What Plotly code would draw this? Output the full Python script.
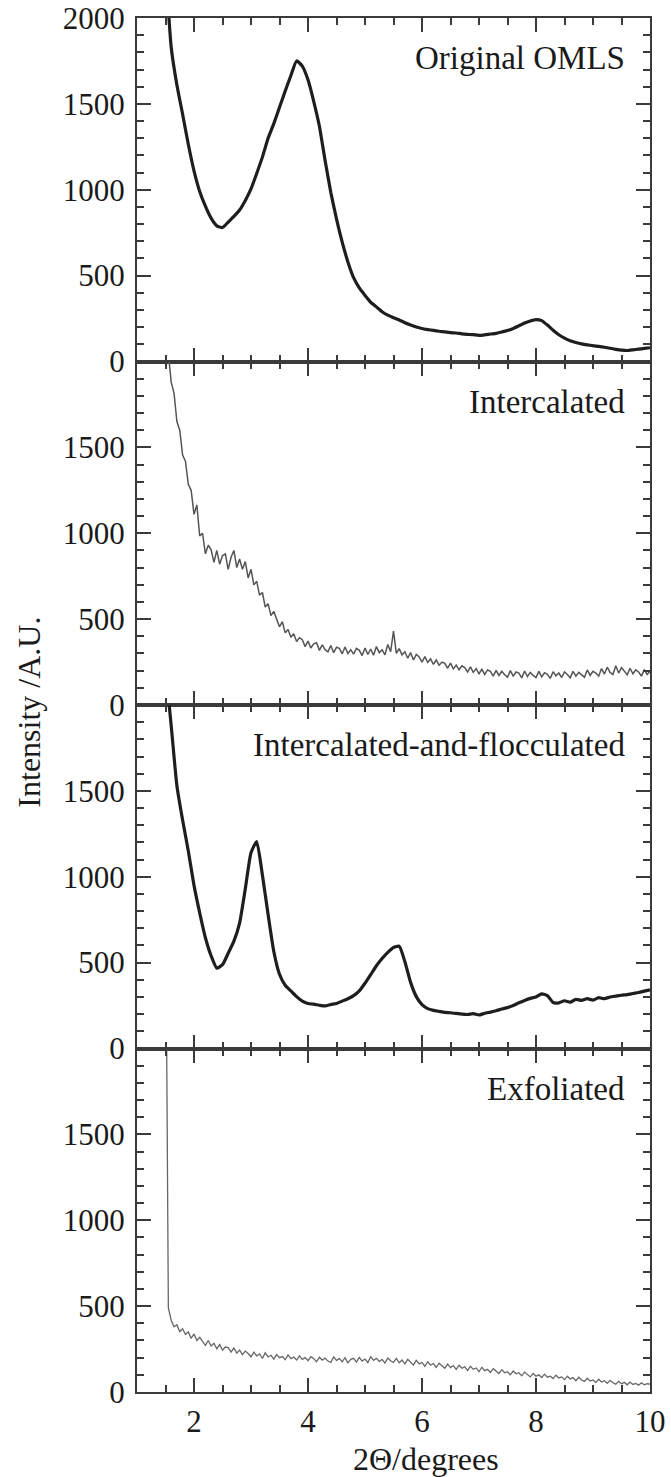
import plotly.graph_objects as go
from plotly.subplots import make_subplots

# ---------------- data ----------------
TWO_THETA_COARSE = [1.55, 1.6, 1.7, 1.8, 1.9, 2.0, 2.1, 2.2, 2.3, 2.4, 2.5, 2.6, 2.7, 2.8, 2.9,
                    3.0, 3.1, 3.2, 3.3, 3.4, 3.5, 3.6, 3.7, 3.8, 3.9, 4.0, 4.1, 4.2, 4.3, 4.4,
                    4.5, 4.6, 4.7, 4.8, 4.9, 5.0, 5.1, 5.2, 5.3, 5.4, 5.5, 5.6, 5.7, 5.8, 5.9,
                    6.0, 6.1, 6.2, 6.3, 6.4, 6.5, 6.6, 6.7, 6.8, 6.9, 7.0, 7.1, 7.2, 7.3, 7.4,
                    7.5, 7.6, 7.7, 7.8, 7.9, 8.0, 8.1, 8.2, 8.3, 8.4, 8.5, 8.6, 8.7, 8.8, 8.9,
                    9.0, 9.1, 9.2, 9.3, 9.4, 9.5, 9.6, 9.7, 9.8, 9.9, 10.0]

original_omls = [2050, 1830, 1610, 1440, 1265, 1110, 990, 905, 835, 790, 780, 812, 845, 882, 938,
                 1005, 1095, 1190, 1300, 1385, 1480, 1575, 1665, 1750, 1720, 1640, 1515, 1370, 1170, 985,
                 830, 695, 580, 488, 428, 385, 345, 318, 290, 270, 255, 242, 226, 213, 201,
                 192, 186, 181, 176, 172, 168, 166, 161, 158, 156, 152, 155, 160, 164, 172,
                 180, 192, 208, 224, 236, 244, 238, 212, 182, 156, 136, 121, 111, 103, 97,
                 92, 88, 83, 77, 71, 66, 64, 68, 72, 76, 80]

intercalated_flocculated = [2050, 1880, 1530, 1330, 1150, 950, 790, 645, 540, 468, 488, 555, 625, 730, 930,
                            1140, 1205, 1010, 780, 565, 432, 368, 335, 302, 276, 262, 258, 252, 248, 256,
                            262, 276, 290, 308, 336, 380, 430, 482, 524, 560, 588, 596, 505, 385, 302,
                            255, 232, 222, 216, 210, 208, 204, 200, 198, 203, 195, 205, 212, 220, 230,
                            238, 250, 266, 280, 292, 300, 318, 308, 268, 266, 278, 270, 286, 280, 290,
                            282, 296, 290, 300, 305, 310, 314, 320, 326, 334, 342]

TWO_THETA_FINE = [1.55, 1.6, 1.65, 1.7, 1.75, 1.8, 1.85, 1.9, 1.95, 2.0, 2.05, 2.1, 2.15, 2.2, 2.25,
                  2.3, 2.35, 2.4, 2.45, 2.5, 2.55, 2.6, 2.65, 2.7, 2.75, 2.8, 2.85, 2.9, 2.95, 3.0,
                  3.05, 3.1, 3.15, 3.2, 3.25, 3.3, 3.35, 3.4, 3.45, 3.5, 3.55, 3.6, 3.65, 3.7, 3.75,
                  3.8, 3.85, 3.9, 3.95, 4.0, 4.05, 4.1, 4.15, 4.2, 4.25, 4.3, 4.35, 4.4, 4.45, 4.5,
                  4.55, 4.6, 4.65, 4.7, 4.75, 4.8, 4.85, 4.9, 4.95, 5.0, 5.05, 5.1, 5.15, 5.2, 5.25,
                  5.3, 5.35, 5.4, 5.45, 5.5, 5.55, 5.6, 5.65, 5.7, 5.75, 5.8, 5.85, 5.9, 5.95, 6.0,
                  6.05, 6.1, 6.15, 6.2, 6.25, 6.3, 6.35, 6.4, 6.45, 6.5, 6.55, 6.6, 6.65, 6.7, 6.75,
                  6.8, 6.85, 6.9, 6.95, 7.0, 7.05, 7.1, 7.15, 7.2, 7.25, 7.3, 7.35, 7.4, 7.45, 7.5,
                  7.55, 7.6, 7.65, 7.7, 7.75, 7.8, 7.85, 7.9, 7.95, 8.0, 8.05, 8.1, 8.15, 8.2, 8.25,
                  8.3, 8.35, 8.4, 8.45, 8.5, 8.55, 8.6, 8.65, 8.7, 8.75, 8.8, 8.85, 8.9, 8.95, 9.0,
                  9.05, 9.1, 9.15, 9.2, 9.25, 9.3, 9.35, 9.4, 9.45, 9.5, 9.55, 9.6, 9.65, 9.7, 9.75,
                  9.8, 9.85, 9.9, 9.95, 10.0]

intercalated = [2050, 1880, 1815, 1650, 1600, 1455, 1420, 1285, 1250, 1110, 1165, 985, 1000, 880, 930,
                905, 830, 900, 820, 870, 880, 790, 860, 900, 800, 850, 790, 835, 740, 790,
                700, 720, 640, 655, 570, 590, 520, 545, 500, 455, 485, 420, 440, 395, 415,
                370, 392, 380, 340, 372, 332, 356, 362, 318, 350, 322, 310, 346, 305, 336,
                330, 298, 338, 300, 322, 296, 330, 318, 288, 332, 295, 326, 290, 340, 305,
                322, 292, 352, 310, 430, 300, 328, 292, 310, 272, 305, 262, 294, 280, 250,
                282, 248, 268, 236, 262, 232, 250, 242, 214, 244, 210, 232, 205, 228, 218,
                192, 222, 190, 212, 182, 208, 178, 204, 196, 168, 202, 172, 196, 176, 162,
                200, 168, 192, 186, 158, 198, 166, 190, 172, 160, 196, 164, 188, 178, 155,
                194, 170, 186, 160, 192, 178, 158, 196, 168, 190, 176, 162, 204, 172, 196,
                186, 168, 212, 180, 220, 190, 178, 228, 186, 218, 200, 176, 214, 182, 205,
                192, 168, 206, 178, 196]

TWO_THETA_EXF = [1.52] + TWO_THETA_FINE

exfoliated = [2050,
              490, 418, 380, 392, 352, 368, 335, 350, 312, 338, 300, 318, 296, 272, 300,
              268, 284, 252, 276, 244, 262, 258, 232, 256, 226, 244, 218, 238, 224, 205,
              232, 210, 222, 196, 228, 204, 214, 192, 218, 200, 206, 188, 216, 194, 204,
              186, 210, 190, 200, 182, 206, 194, 176, 202, 186, 198, 180, 172, 204, 184,
              194, 176, 200, 170, 190, 196, 174, 202, 180, 192, 172, 206, 184, 196, 178,
              190, 168, 198, 182, 172, 196, 170, 186, 164, 190, 174, 158, 184, 164, 172,
              150, 176, 156, 166, 144, 168, 150, 138, 162, 142, 154, 132, 156, 138, 146,
              126, 150, 132, 140, 118, 144, 124, 132, 114, 136, 120, 108, 130, 112, 118,
              100, 122, 106, 112, 94, 116, 100, 88, 108, 92, 100, 84, 104, 86, 92,
              78, 98, 82, 88, 72, 92, 76, 84, 66, 86, 70, 62, 80, 64, 70,
              56, 74, 58, 66, 50, 68, 54, 46, 62, 48, 56, 42, 58, 44, 50,
              40, 54, 42, 48, 46]

PANEL_LABELS = ["Original OMLS", "Intercalated", "Intercalated-and-flocculated", "Exfoliated"]
X_TICKS = [2, 4, 6, 8, 10]
Y_TICKS_TOP = [0, 500, 1000, 1500, 2000]
Y_TICKS_OTHER = [0, 500, 1000, 1500]

# ---------------- figure ----------------
FONT = "Liberation Serif"
AX = "#3a3a3a"
TXT = "#1a1a1a"

fig = make_subplots(rows=4, cols=1, shared_xaxes=True, vertical_spacing=0)

series = [
    (TWO_THETA_COARSE, original_omls, "#1e1e1e", 3.2, "spline"),
    (TWO_THETA_FINE, intercalated, "#555555", 1.5, "linear"),
    (TWO_THETA_COARSE, intercalated_flocculated, "#1e1e1e", 3.2, "spline"),
    (TWO_THETA_EXF, exfoliated, "#666666", 1.3, "linear"),
]
for i, (xs, ys, col, w, shp) in enumerate(series, start=1):
    line = dict(color=col, width=w, shape=shp)
    if shp == "spline":
        line["smoothing"] = 0.5
    fig.add_trace(go.Scatter(x=xs, y=ys, mode="lines", line=line,
                             showlegend=False, hoverinfo="skip"), row=i, col=1)

for i in range(1, 5):
    fig.update_xaxes(row=i, col=1, range=[1, 10], showline=True, linecolor=AX, linewidth=2,
                     mirror="allticks", ticks="inside", ticklen=14, tickwidth=2, tickcolor=AX,
                     tickvals=X_TICKS, showgrid=False, zeroline=False, automargin=False,
                     showticklabels=(i == 4), ticklabelstandoff=1,
                     tickfont=dict(family=FONT, size=31, color=TXT),
                     minor=dict(dtick=0.5, tick0=0, ticks="inside", ticklen=7, tickwidth=2,
                                tickcolor=AX, showgrid=False))
    fig.update_yaxes(row=i, col=1, range=[0, 2000], showline=True, linecolor=AX, linewidth=2,
                     mirror="allticks", ticks="inside", ticklen=14, tickwidth=2, tickcolor=AX,
                     tickvals=Y_TICKS_TOP if i == 1 else Y_TICKS_OTHER, showgrid=False,
                     zeroline=False, ticklabelstandoff=4, automargin=False,
                     tickfont=dict(family=FONT, size=31, color=TXT),
                     minor=dict(dtick=100, tick0=0, ticks="inside", ticklen=7, tickwidth=2,
                                tickcolor=AX, showgrid=False))

for i, lab in enumerate(PANEL_LABELS, start=1):
    fig.add_annotation(text=lab, x=0.956, xref="paper", xanchor="right",
                       y=1765, yref=f"y{'' if i == 1 else i}", yanchor="middle",
                       showarrow=False, font=dict(family=FONT, size=33, color=TXT))

fig.add_annotation(text="Intensity /A.U.", textangle=-90, x=-0.211, xref="paper", xanchor="center",
                   y=0.495, yref="paper", yanchor="middle", showarrow=False,
                   font=dict(family=FONT, size=32, color=TXT))
fig.add_annotation(text="2Θ/degrees", x=0.563, xref="paper", xanchor="center",
                   y=-0.049, yref="paper", yanchor="middle", showarrow=False,
                   font=dict(family=FONT, size=32, color=TXT))

fig.update_layout(width=671, height=1477, margin=dict(l=137, r=21, t=18, b=85),
                  paper_bgcolor="white", plot_bgcolor="white", showlegend=False)

fig.write_html("out.html")
